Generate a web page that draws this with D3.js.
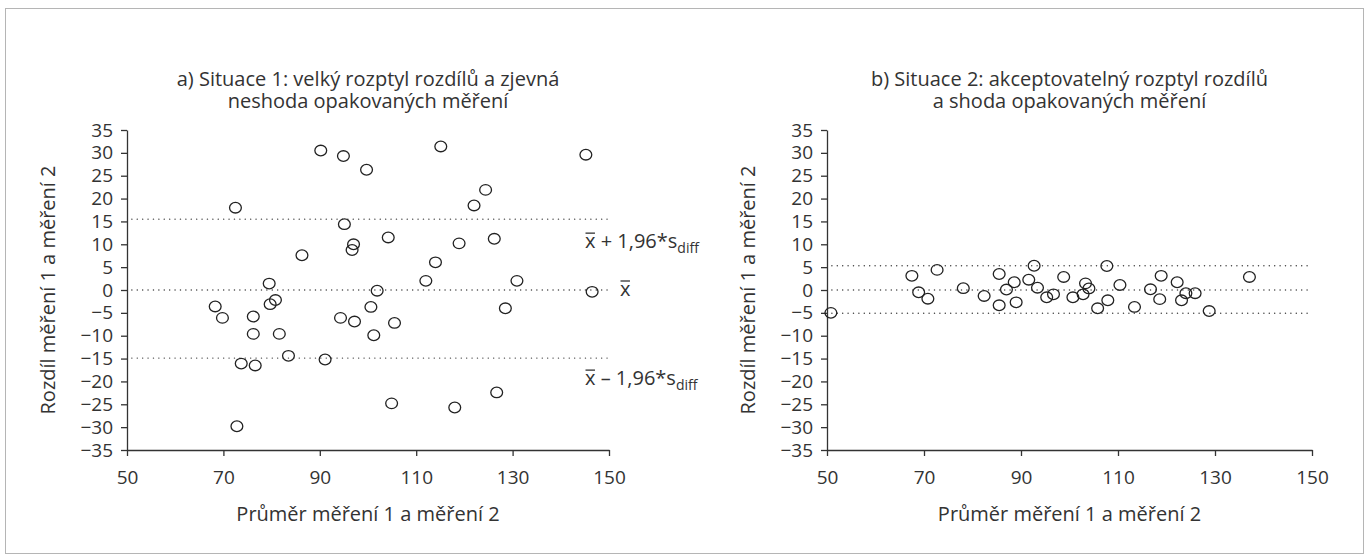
<!DOCTYPE html>
<html>
<head>
<meta charset="utf-8">
<script src="https://cdn.jsdelivr.net/npm/d3@7"></script>
<style>
  body { margin: 0; background: #fff; }
  text { font-family: "Open Sans", "Noto Sans", sans-serif; fill: #333; }
  .axis path, .axis line { stroke: #333; stroke-width: 1.3; }
  .axis text { font-size: 19px; fill: #333; }
</style>
</head>
<body>
<svg id="chart" width="1370" height="560"></svg>
<script>
var xTicks = [50, 70, 90, 110, 130, 150];
var yTicks = [-35, -30, -25, -20, -15, -10, -5, 0, 5, 10, 15, 20, 25, 30, 35];

// situace 1 - prumer a rozdil
var meanA = [68.3, 69.8, 72.5, 76.2, 79.5, 79.7, 80.8, 86.3, 90.2, 94.9, 95.1, 97.0, 96.7, 99.7,
             94.3, 97.2, 100.6, 101.9, 104.2, 76.2, 81.6, 83.5, 73.7, 76.6, 91.1, 72.8, 101.2,
             104.9, 105.5, 115.1, 145.2, 124.4, 122.0, 118.9, 126.2, 114.0, 112.0, 130.9, 146.5,
             128.5, 118.0, 126.7];
var diffA = [-3.6, -6.1, 18.0, -5.8, 1.4, -3.1, -2.2, 7.6, 30.5, 29.3, 14.4, 10.0, 8.75, 26.3,
             -6.1, -6.9, -3.7, -0.15, 11.5, -9.6, -9.6, -14.4, -16.1, -16.5, -15.2, -29.8, -9.9,
             -24.8, -7.2, 31.4, 29.6, 21.9, 18.5, 10.2, 11.2, 6.05, 2.0, 2.0, -0.4,
             -4.0, -25.7, -22.4];
var limitsA = [15.5, 0, -14.9];

// situace 2
var meanB = [50.8, 67.5, 68.9, 70.8, 72.7, 78.1, 82.4, 85.5, 85.5, 87.0, 88.6, 89.0, 91.6, 92.7,
             93.4, 95.3, 96.7, 98.8, 100.7, 102.8, 103.3, 104.0, 105.8, 107.7, 107.9, 110.4,
             113.4, 116.7, 118.9, 118.6, 122.2, 123.1, 124.0, 125.9, 128.8, 137.1];
var diffB = [-5.0, 3.1, -0.5, -1.9, 4.4, 0.4, -1.3, 3.5, -3.35, 0.1, 1.7, -2.7, 2.25, 5.3,
             0.5, -1.6, -0.95, 2.85, -1.6, -0.95, 1.45, 0.35, -4.0, 5.25, -2.25, 1.1,
             -3.7, 0.15, 3.1, -2.0, 1.7, -2.25, -0.7, -0.7, -4.6, 2.85];
var limitsB = [5.3, 0, -5.1];

var titlesA = ["a) Situace 1: velký rozptyl rozdílů a zjevná", "neshoda opakovaných měření"];
var titlesB = ["b) Situace 2: akceptovatelný rozptyl rozdílů", "a shoda opakovaných měření"];
var xLabel = "Průměr měření 1 a měření 2";
var yLabel = "Rozdíl měření 1 a měření 2";

var svg = d3.select("#chart");

svg.append("rect")
    .attr("x", 5.5).attr("y", 8.5)
    .attr("width", 1358).attr("height", 545)
    .attr("fill", "none")
    .attr("stroke", "#b5b5b5");

// x s pruhem + zbytek textu
function meanLabel(g, px, py, rest, sub) {
    var lg = g.append("g").attr("transform", "translate(" + px + "," + py + ")");
    var xt = lg.append("text").style("font-size", "20px").text("x");
    var w = xt.node().getComputedTextLength();
    lg.append("line")
        .attr("x1", 0.5).attr("x2", w - 0.5)
        .attr("y1", -15).attr("y2", -15)
        .attr("stroke", "#333").attr("stroke-width", 1.3);
    if (rest) {
        var t = lg.append("text").attr("x", w).style("font-size", "20px");
        t.append("tspan").text(rest);
        if (sub) t.append("tspan").attr("dy", 5).style("font-size", "14px").text(sub);
    }
}

function drawPanel(left, right, titles, means, diffs, limits, annotate) {
    var top = 130, bottom = 450;
    var x = d3.scaleLinear().domain([50, 150]).range([left, right]);
    var y = d3.scaleLinear().domain([-35, 35]).range([bottom, top]);
    var g = svg.append("g");
    var cx = (left + right) / 2;

    g.selectAll(".title").data(titles).enter().append("text")
        .attr("x", cx)
        .attr("y", function(d, i) { return 86 + i * 22; })
        .attr("text-anchor", "middle")
        .style("font-size", "20px")
        .text(function(d) { return d; });

    // tečkované čáry: průměr a meze
    g.selectAll(".lim").data(limits).enter().append("line")
        .attr("x1", x(51)).attr("x2", x(149.6))
        .attr("y1", function(d) { return y(d); })
        .attr("y2", function(d) { return y(d); })
        .attr("stroke", "#444")
        .attr("stroke-width", 1.4)
        .attr("stroke-linecap", "round")
        .attr("stroke-dasharray", "0.1,5.3");

    g.append("g").attr("class", "axis")
        .attr("transform", "translate(" + left + ",0)")
        .call(d3.axisLeft(y).tickValues(yTicks).tickSize(6).tickSizeOuter(0).tickPadding(8));
    g.append("g").attr("class", "axis")
        .attr("transform", "translate(0," + bottom + ")")
        .call(d3.axisBottom(x).tickValues(xTicks).tickSize(6).tickSizeOuter(0).tickPadding(15));

    g.append("text")
        .attr("x", cx).attr("y", 521)
        .attr("text-anchor", "middle")
        .style("font-size", "20px")
        .text(xLabel);
    g.append("text")
        .attr("transform", "translate(" + (left - 72) + "," + y(0) + ") rotate(-90)")
        .attr("text-anchor", "middle")
        .style("font-size", "20px")
        .text(yLabel);

    g.selectAll("ellipse").data(means).enter().append("ellipse")
        .attr("cx", function(d) { return x(d); })
        .attr("cy", function(d, i) { return y(diffs[i]); })
        .attr("rx", 5.9)
        .attr("ry", 5.3)
        .attr("fill", "none")
        .attr("stroke", "#222")
        .attr("stroke-width", 1.3);

    if (annotate) {
        meanLabel(g, right - 24, y(limits[0]) + 29, "\u00a0+ 1,96*s", "diff");
        meanLabel(g, right + 11, y(limits[1]) + 6, "", "");
        meanLabel(g, right - 24, y(limits[2]) + 27, "\u00a0\u2013 1,96*s", "diff");
    }
}

drawPanel(127, 609, titlesA, meanA, diffA, limitsA, true);
drawPanel(827, 1312, titlesB, meanB, diffB, limitsB, false);
</script>
</body>
</html>
